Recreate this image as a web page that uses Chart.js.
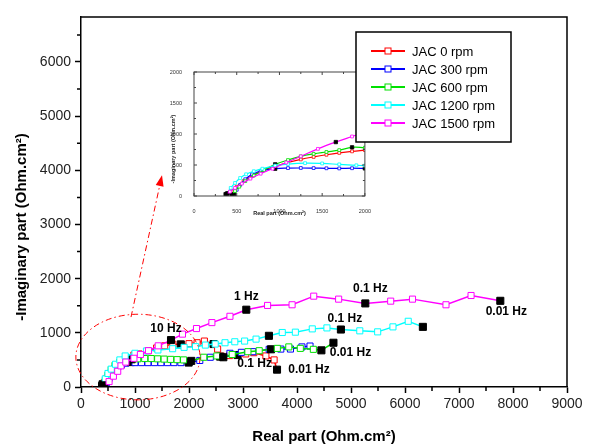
<!DOCTYPE html>
<html>
<head>
<meta charset="utf-8">
<script src="https://cdn.jsdelivr.net/npm/chart.js@4.4.0/dist/chart.umd.min.js"></script>
<style>
  html, body { margin: 0; padding: 0; background: #fff; }
  #wrap { position: relative; width: 594px; height: 448px; }
  #main { position: absolute; left: 0; top: 0; z-index: 2; }
  #inset { position: absolute; left: 160px; top: 62px; z-index: 1; }
</style>
</head>
<body>
<div id="wrap">
  <canvas id="inset" width="215" height="160"></canvas>
  <canvas id="main" width="594" height="448"></canvas>
</div>
<script>
// --- dados do grafico principal (Nyquist) ---
const seriesNames = ['JAC 0 rpm', 'JAC 300 rpm', 'JAC 600 rpm', 'JAC 1200 rpm', 'JAC 1500 rpm'];

const re0 = [390, 430, 480, 540, 610, 690, 780, 880, 980, 1073, 1242, 1400, 1550, 1700, 1848, 2000, 2150, 2285, 2455, 2530, 2600, 2750, 2900, 3050, 3200, 3424, 3576, 3630];
const im0 = [20, 80, 160, 250, 330, 410, 480, 540, 590, 610, 671, 720, 760, 790, 787, 800, 817, 848, 793, 700, 570, 580, 590, 610, 633, 573, 500, 320];
const black0 = [0, 14, 18, 22, 27];

const re300 = [430, 470, 520, 570, 620, 680, 750, 830, 921, 1000, 1120, 1240, 1360, 1480, 1600, 1720, 1850, 1994, 2200, 2394, 2576, 2758, 2970, 3182, 3485, 3700, 3879, 4091, 4241];
const im300 = [20, 80, 160, 240, 310, 370, 410, 440, 460, 450, 450, 450, 450, 450, 450, 450, 450, 451, 490, 549, 561, 622, 640, 652, 695, 700, 701, 740, 756];
const black300 = [0, 8, 17, 20];

const re600 = [410, 450, 500, 560, 630, 720, 830, 939, 1050, 1180, 1300, 1420, 1540, 1660, 1780, 1900, 2042, 2273, 2515, 2636, 2800, 3091, 3300, 3518, 3636, 3848, 4061, 4303, 4452, 4675];
const im600 = [30, 120, 220, 320, 400, 460, 500, 512, 520, 525, 525, 520, 515, 510, 505, 500, 482, 549, 573, 549, 600, 652, 670, 696, 713, 740, 713, 695, 677, 817];
const black600 = [0, 7, 16, 19, 23, 28, 29];

const re1200 = [400, 450, 500, 560, 640, 720, 818, 1000, 1212, 1424, 1697, 1909, 2121, 2303, 2485, 2667, 2848, 3030, 3242, 3480, 3727, 3970, 4283, 4554, 4813, 5163, 5494, 5777, 6060, 6331];
const im1200 = [50, 150, 250, 330, 420, 500, 573, 622, 665, 683, 707, 732, 744, 774, 793, 817, 835, 848, 884, 945, 1006, 1012, 1073, 1091, 1061, 1037, 1018, 1110, 1213, 1110];
const black1200 = [0, 19, 24, 29];

const re1500 = [430, 520, 600, 680, 740, 830, 980, 1100, 1250, 1430, 1667, 1879, 2139, 2424, 2758, 3061, 3455, 3909, 4310, 4771, 5265, 5735, 6139, 6759, 7223, 7765];
const im1500 = [30, 100, 200, 290, 390, 460, 530, 600, 670, 760, 866, 976, 1079, 1189, 1305, 1427, 1506, 1518, 1677, 1622, 1543, 1585, 1622, 1518, 1689, 1591];
const black1500 = [0, 10, 15, 20, 25];

// rotulos de frequencia: texto, serie, ponto
const noteText = ['10 Hz', '1 Hz', '0.1 Hz', '0.01 Hz', '0.1 Hz', '0.01 Hz', '0.01 Hz', '0.1 Hz'];
const noteSeries = [4, 4, 4, 4, 3, 2, 0, 0];
const notePoint = [10, 15, 20, 25, 24, 29, 27, 22];

const xTicks = [0, 1000, 2000, 3000, 4000, 5000, 6000, 7000, 8000, 9000];
const yTicks = [0, 1000, 2000, 3000, 4000, 5000, 6000];
const xMinor = [500, 1500, 2500, 3500, 4500, 5500, 6500, 7500, 8500];
const yMinor = [500, 1500, 2500, 3500, 4500, 5500, 6500];

// --- dados do detalhe (inset) ---
const insRe0 = [390, 440, 500, 580, 680, 800, 950, 1100, 1250, 1400, 1550, 1700, 1850, 2000];
const insIm0 = [40, 80, 150, 240, 330, 410, 480, 540, 590, 630, 665, 695, 720, 740];
const insRe300 = [470, 500, 540, 600, 680, 780, 950, 1100, 1250, 1400, 1550, 1700, 1850, 2000];
const insIm300 = [30, 100, 180, 270, 350, 400, 440, 450, 452, 450, 447, 445, 448, 445];
const insRe600 = [440, 480, 530, 600, 700, 820, 950, 1100, 1250, 1400, 1550, 1700, 1850, 2000];
const insIm600 = [20, 80, 150, 240, 330, 420, 510, 580, 640, 680, 710, 740, 785, 780];
const insRe1200 = [390, 430, 480, 540, 610, 700, 800, 950, 1100, 1300, 1500, 1700, 1900, 2000];
const insIm1200 = [40, 130, 210, 290, 350, 400, 440, 490, 515, 530, 525, 510, 495, 490];
const insRe1500 = [370, 420, 480, 560, 660, 780, 920, 1080, 1250, 1450, 1660, 1850, 2000];
const insIm1500 = [30, 70, 130, 200, 280, 360, 440, 540, 640, 760, 870, 960, 1030];
const insBlack = [[0], [0, 6, 13], [0, 6, 12], [0], [0, 10]];
const insTicks = [0, 500, 1000, 1500, 2000];

const cores = ['#ff0000', '#0000ff', '#00e000', '#00ffff', '#ff00ff'];
const fonte = '"Liberation Sans", Arial, sans-serif';

const mainRe = [re0, re300, re600, re1200, re1500];
const mainIm = [im0, im300, im600, im1200, im1500];
const mainBlack = [black0, black300, black600, black1200, black1500];
const insRe = [insRe0, insRe300, insRe600, insRe1200, insRe1500];
const insIm = [insIm0, insIm300, insIm600, insIm1200, insIm1500];

function pontos(xs, ys) {
  return xs.map((x, i) => ({ x: x, y: ys[i] }));
}

const datasetsMain = seriesNames.map((nome, s) => {
  const blk = mainBlack[s];
  return {
    label: nome,
    data: pontos(mainRe[s], mainIm[s]),
    showLine: true,
    borderColor: cores[s],
    borderWidth: 1.5,
    pointStyle: 'rect',
    pointRadius: ctx => blk.includes(ctx.dataIndex) ? 5 : 4.3,
    pointBorderWidth: 1,
    pointBackgroundColor: ctx => blk.includes(ctx.dataIndex) ? '#000' : '#fff',
    pointBorderColor: ctx => blk.includes(ctx.dataIndex) ? '#000' : cores[s],
    order: 5 - s
  };
});

// ticks menores, moldura, titulo Y, legenda, rotulos, elipse e seta
const extrasMain = {
  id: 'extrasMain',
  afterDraw(chart) {
    const ctx = chart.ctx;
    const a = chart.chartArea;
    const sx = chart.scales.x, sy = chart.scales.y;
    ctx.save();

    // moldura superior e direita
    ctx.strokeStyle = '#000';
    ctx.lineWidth = 1.5;
    ctx.beginPath();
    ctx.moveTo(a.left, a.top);
    ctx.lineTo(a.right, a.top);
    ctx.lineTo(a.right, a.bottom);
    ctx.stroke();

    // ticks menores
    ctx.beginPath();
    xMinor.forEach(v => {
      const px = sx.getPixelForValue(v);
      ctx.moveTo(px, a.bottom);
      ctx.lineTo(px, a.bottom + 4);
    });
    yMinor.forEach(v => {
      const py = sy.getPixelForValue(v);
      ctx.moveTo(a.left, py);
      ctx.lineTo(a.left - 4, py);
    });
    ctx.stroke();

    // titulo do eixo Y
    ctx.fillStyle = '#000';
    ctx.font = 'bold 15px ' + fonte;
    ctx.textAlign = 'center';
    ctx.textBaseline = 'middle';
    ctx.translate(22, 227);
    ctx.rotate(-Math.PI / 2);
    ctx.fillText('-Imaginary part (Ohm.cm²)', 0, 0);
    ctx.setTransform(1, 0, 0, 1, 0, 0);

    // rotulos de frequencia
    const desloc = [[-5, -11], [0, -13], [5, -15], [6, 11], [4, -11], [17, 10], [32, 0], [17, 9]];
    ctx.font = 'bold 12px ' + fonte;
    noteText.forEach((txt, i) => {
      const p = chart.getDatasetMeta(noteSeries[i]).data[notePoint[i]];
      ctx.fillText(txt, p.x + desloc[i][0], p.y + desloc[i][1]);
    });

    // elipse tracejada e seta
    ctx.strokeStyle = '#ff0000';
    ctx.lineWidth = 1;
    ctx.setLineDash([6, 3, 1.5, 3]);
    const cx = sx.getPixelForValue(1055), cy = sy.getPixelForValue(553);
    const rx = sx.getPixelForValue(1055 + 1150) - cx;
    const ry = cy - sy.getPixelForValue(553 + 790);
    ctx.beginPath();
    ctx.ellipse(cx, cy, rx, ry, 0, 0, Math.PI * 2);
    ctx.stroke();
    const x0 = sx.getPixelForValue(926), y0 = sy.getPixelForValue(1291);
    const x1 = sx.getPixelForValue(1500), y1 = sy.getPixelForValue(3911);
    const ang = Math.atan2(y1 - y0, x1 - x0);
    ctx.beginPath();
    ctx.moveTo(x0, y0);
    ctx.lineTo(x1 - 8 * Math.cos(ang), y1 - 8 * Math.sin(ang));
    ctx.stroke();
    ctx.setLineDash([]);
    ctx.fillStyle = '#ff0000';
    ctx.beginPath();
    ctx.moveTo(x1, y1);
    ctx.lineTo(x1 - 11 * Math.cos(ang) + 4 * Math.sin(ang), y1 - 11 * Math.sin(ang) - 4 * Math.cos(ang));
    ctx.lineTo(x1 - 11 * Math.cos(ang) - 4 * Math.sin(ang), y1 - 11 * Math.sin(ang) + 4 * Math.cos(ang));
    ctx.closePath();
    ctx.fill();

    // legenda
    const bx = 356, by = 32, bw = 155, bh = 110;
    ctx.fillStyle = '#fff';
    ctx.fillRect(bx, by, bw, bh);
    ctx.strokeStyle = '#000';
    ctx.lineWidth = 1.5;
    ctx.strokeRect(bx, by, bw, bh);
    ctx.font = '13px ' + fonte;
    ctx.textAlign = 'left';
    ctx.textBaseline = 'middle';
    chart.data.datasets.forEach((ds, i) => {
      const ly = 51 + i * 18;
      ctx.strokeStyle = ds.borderColor;
      ctx.lineWidth = 2;
      ctx.beginPath();
      ctx.moveTo(371, ly);
      ctx.lineTo(405, ly);
      ctx.stroke();
      ctx.fillStyle = '#fff';
      ctx.fillRect(385, ly - 3, 6, 6);
      ctx.lineWidth = 1;
      ctx.strokeRect(385, ly - 3, 6, 6);
      ctx.fillStyle = '#000';
      ctx.fillText(ds.label, 412, ly + 1);
    });
    ctx.restore();
  }
};

new Chart(document.getElementById('main').getContext('2d'), {
  type: 'scatter',
  data: { datasets: datasetsMain },
  options: {
    responsive: false,
    animation: false,
    devicePixelRatio: 1,
    events: [],
    layout: { padding: { left: 0, right: 27, top: 17, bottom: 0 } },
    plugins: { legend: { display: false }, tooltip: { enabled: false } },
    scales: {
      x: {
        type: 'linear', min: 0, max: 9000,
        afterFit: s => { s.height = 61; },
        afterBuildTicks: s => { s.ticks = xTicks.map(v => ({ value: v })); },
        ticks: {
          autoSkip: false, maxRotation: 0, padding: 3,
          color: '#222', font: { family: fonte, size: 14 },
          callback: v => String(v)
        },
        grid: { drawOnChartArea: false, tickLength: 6, tickWidth: 1.5, tickColor: '#000' },
        border: { color: '#000', width: 1.5 },
        title: {
          display: true, text: 'Real part (Ohm.cm²)', color: '#000',
          font: { family: fonte, size: 15, weight: 'bold' }, padding: { top: 0, bottom: 2 }
        }
      },
      y: {
        type: 'linear', min: 0, max: 6830,
        afterFit: s => { s.width = 81; },
        afterBuildTicks: s => { s.ticks = yTicks.map(v => ({ value: v })); },
        ticks: {
          autoSkip: false, padding: 4,
          color: '#222', font: { family: fonte, size: 14 },
          callback: v => String(v)
        },
        grid: { drawOnChartArea: false, tickLength: 6, tickWidth: 1.5, tickColor: '#000' },
        border: { color: '#000', width: 1.5 }
      }
    }
  },
  plugins: [extrasMain]
});

// --- grafico de detalhe ---
const datasetsInset = seriesNames.map((nome, s) => {
  const blk = insBlack[s];
  return {
    label: nome,
    data: pontos(insRe[s], insIm[s]),
    showLine: true,
    tension: 0.4,
    borderColor: cores[s],
    borderWidth: 1.2,
    pointStyle: 'rect',
    pointRadius: ctx => blk.includes(ctx.dataIndex) ? 2.4 : 2,
    pointBorderWidth: 0.8,
    pointBackgroundColor: ctx => blk.includes(ctx.dataIndex) ? '#000' : '#fff',
    pointBorderColor: ctx => blk.includes(ctx.dataIndex) ? '#000' : cores[s],
    order: 5 - s
  };
});

const extrasInset = {
  id: 'extrasInset',
  afterDraw(chart) {
    const ctx = chart.ctx;
    const a = chart.chartArea;
    const sx = chart.scales.x, sy = chart.scales.y;
    ctx.save();
    ctx.strokeStyle = '#444';
    ctx.lineWidth = 1;
    ctx.strokeRect(a.left, a.top, a.right - a.left, a.bottom - a.top);
    ctx.beginPath();
    for (let v = 0; v <= 2000; v += 250) {
      const px = sx.getPixelForValue(v), py = sy.getPixelForValue(v);
      const len = v % 500 === 0 ? 3 : 2;
      ctx.moveTo(px, a.bottom); ctx.lineTo(px, a.bottom - len);
      ctx.moveTo(px, a.top); ctx.lineTo(px, a.top + len);
      ctx.moveTo(a.left, py); ctx.lineTo(a.left + len, py);
      ctx.moveTo(a.right, py); ctx.lineTo(a.right - len, py);
    }
    ctx.stroke();
    ctx.fillStyle = '#222';
    ctx.font = 'bold 5.5px ' + fonte;
    ctx.textAlign = 'center';
    ctx.textBaseline = 'middle';
    ctx.fillText('Real part (Ohm.cm²)', (a.left + a.right) / 2, 151);
    ctx.translate(13, 87);
    ctx.rotate(-Math.PI / 2);
    ctx.fillText('-Imaginary part (Ohm.cm²)', 0, 0);
    ctx.restore();
  }
};

new Chart(document.getElementById('inset').getContext('2d'), {
  type: 'scatter',
  data: { datasets: datasetsInset },
  options: {
    responsive: false,
    animation: false,
    devicePixelRatio: 1,
    events: [],
    layout: { padding: { left: 0, right: 5, top: 10, bottom: 0 } },
    plugins: { legend: { display: false }, tooltip: { enabled: false } },
    scales: {
      x: {
        type: 'linear', min: 0, max: 2000,
        afterFit: s => { s.height = 26; },
        afterBuildTicks: s => { s.ticks = insTicks.map(v => ({ value: v })); },
        ticks: { padding: 4, maxRotation: 0, color: '#333', font: { family: fonte, size: 5.5 }, callback: v => String(v) },
        grid: { display: false },
        border: { display: false }
      },
      y: {
        type: 'linear', min: 0, max: 2000,
        afterFit: s => { s.width = 34; },
        afterBuildTicks: s => { s.ticks = insTicks.map(v => ({ value: v })); },
        ticks: { padding: 4, color: '#333', font: { family: fonte, size: 5.5 }, callback: v => String(v) },
        grid: { display: false },
        border: { display: false }
      }
    }
  },
  plugins: [extrasInset]
});
</script>
</body>
</html>
